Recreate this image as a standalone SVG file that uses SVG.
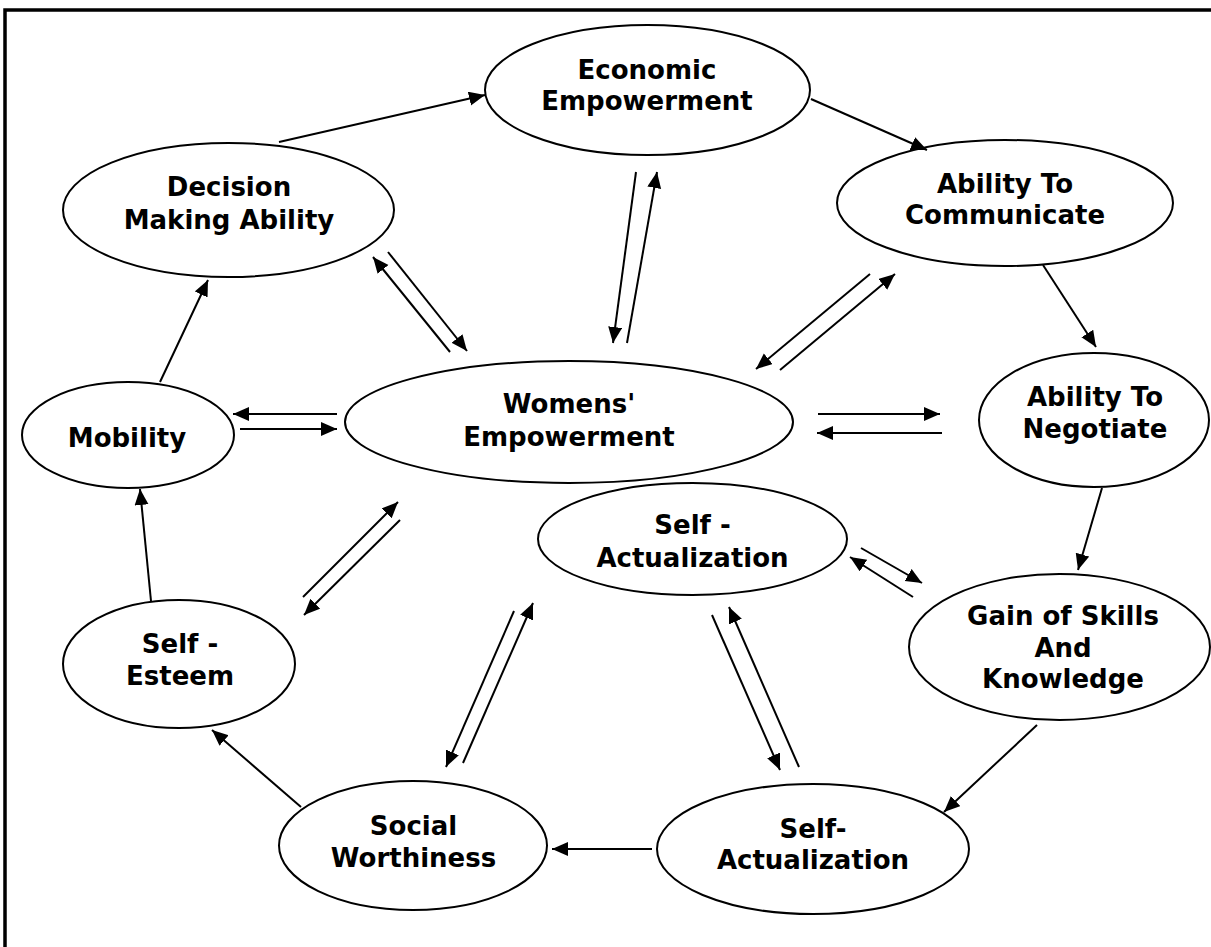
<svg xmlns="http://www.w3.org/2000/svg" width="1211" height="947" viewBox="0 0 1211 947">
<style>
.n ellipse{fill:#fff;stroke:#000;stroke-width:2}
.n text{font-family:"DejaVu Sans",Verdana,sans-serif;font-weight:bold;font-size:26px;text-anchor:middle;fill:#000}
#connectors line{stroke:#000;stroke-width:2;marker-end:url(#ah)}
</style>
<defs>
<marker id="ah" markerUnits="userSpaceOnUse" markerWidth="18" markerHeight="16" refX="16" refY="7" orient="auto">
<path d="M0,0 L16,7 L0,14 z" fill="#000"/>
</marker>
</defs>
<rect width="1211" height="947" fill="#fff"/>
<path d="M5,960 V10 H1220" fill="none" stroke="#000" stroke-width="3.5"/>
<g id="econ" class="n"><ellipse cx="647.5" cy="90" rx="162.5" ry="65"/><text x="647" y="79">Economic</text><text x="647" y="110">Empowerment</text></g>
<g id="decision" class="n"><ellipse cx="228.5" cy="210" rx="165.5" ry="67"/><text x="229" y="196">Decision</text><text x="229" y="229">Making Ability</text></g>
<g id="communicate" class="n"><ellipse cx="1005" cy="203" rx="168" ry="63"/><text x="1005" y="193">Ability To</text><text x="1005" y="224">Communicate</text></g>
<g id="negotiate" class="n"><ellipse cx="1094" cy="420" rx="115" ry="67"/><text x="1095" y="406">Ability To</text><text x="1095" y="438">Negotiate</text></g>
<g id="womens" class="n"><ellipse cx="569" cy="422" rx="224" ry="61"/><text x="569" y="413">Womens'</text><text x="569" y="446">Empowerment</text></g>
<g id="mobility" class="n"><ellipse cx="128" cy="435" rx="106" ry="53"/><text x="127" y="447">Mobility</text></g>
<g id="selfact1" class="n"><ellipse cx="692.5" cy="539" rx="154.5" ry="56"/><text x="692.5" y="534">Self -</text><text x="692.5" y="567">Actualization</text></g>
<g id="gain" class="n"><ellipse cx="1059.5" cy="647" rx="150.5" ry="73"/><text x="1063" y="625">Gain of Skills</text><text x="1063" y="657">And</text><text x="1063" y="688">Knowledge</text></g>
<g id="esteem" class="n"><ellipse cx="179" cy="664" rx="116" ry="64"/><text x="180" y="653">Self -</text><text x="180" y="685">Esteem</text></g>
<g id="social" class="n"><ellipse cx="413" cy="845.5" rx="134" ry="64.5"/><text x="413.5" y="835">Social</text><text x="413.5" y="867">Worthiness</text></g>
<g id="selfact2" class="n"><ellipse cx="813" cy="849" rx="156" ry="65"/><text x="813" y="838">Self-</text><text x="813" y="869">Actualization</text></g>
<g id="connectors">
<line x1="279" y1="142" x2="485" y2="95"/>
<line x1="811" y1="99" x2="927" y2="150"/>
<line x1="1043" y1="265" x2="1096" y2="347"/>
<line x1="1102" y1="488" x2="1078" y2="570"/>
<line x1="1037" y1="725" x2="944" y2="812"/>
<line x1="652" y1="849" x2="552" y2="849"/>
<line x1="301" y1="807" x2="212" y2="730"/>
<line x1="151" y1="601" x2="140" y2="489"/>
<line x1="160" y1="382" x2="208" y2="280"/>
<line x1="450" y1="352" x2="373" y2="257"/>
<line x1="388" y1="252" x2="467" y2="351"/>
<line x1="636" y1="172" x2="613" y2="343"/>
<line x1="627" y1="343" x2="657" y2="172"/>
<line x1="870" y1="274" x2="756" y2="369"/>
<line x1="780" y1="370" x2="895" y2="274"/>
<line x1="818" y1="414" x2="940" y2="414"/>
<line x1="942" y1="433" x2="817" y2="433"/>
<line x1="337" y1="414" x2="233" y2="414"/>
<line x1="240" y1="429" x2="337" y2="429"/>
<line x1="303" y1="597" x2="398" y2="502"/>
<line x1="400" y1="520" x2="304" y2="615"/>
<line x1="514" y1="611" x2="446" y2="767"/>
<line x1="463" y1="763" x2="533" y2="603"/>
<line x1="712" y1="615" x2="780" y2="770"/>
<line x1="799" y1="767" x2="729" y2="607"/>
<line x1="861" y1="548" x2="922" y2="583"/>
<line x1="913" y1="597" x2="850" y2="557"/>
</g>
</svg>
